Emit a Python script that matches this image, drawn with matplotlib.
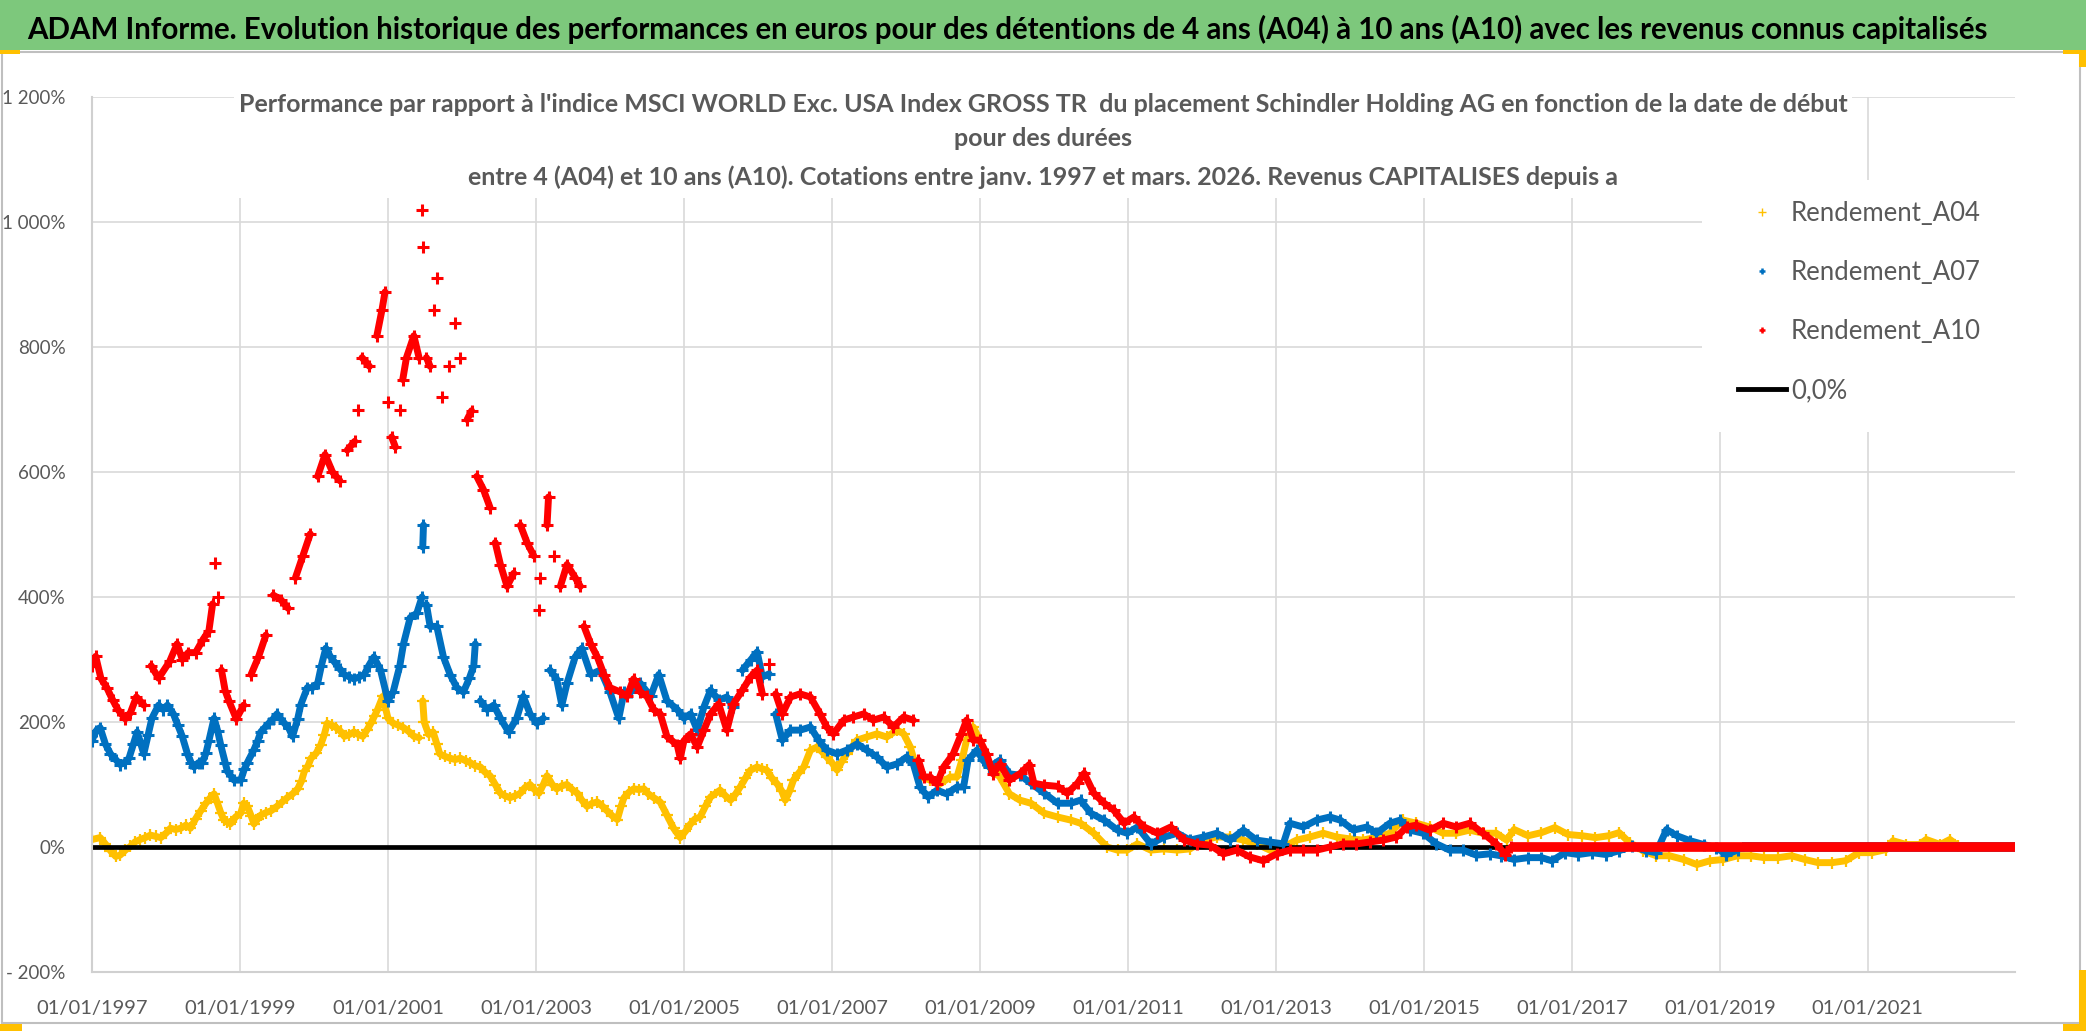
import numpy as np
import matplotlib
matplotlib.use("Agg")
import matplotlib.pyplot as plt
from matplotlib.patches import Rectangle
from matplotlib.lines import Line2D
from matplotlib.ticker import FuncFormatter, FixedLocator

# ---- data (decimal year, performance in %) ----
a04_dates = [1997.00, 1997.11, 1997.18, 1997.25, 1997.32, 1997.38, 1997.45, 1997.52, 1997.58, 1997.65,
             1997.72, 1997.79, 1997.86, 1997.93, 1998.00, 1998.06, 1998.13, 1998.20, 1998.27, 1998.33,
             1998.40, 1998.47, 1998.54, 1998.60, 1998.65, 1998.69, 1998.74, 1998.78, 1998.83, 1998.87,
             1998.94, 1999.01, 1999.05, 1999.10, 1999.15, 1999.19, 1999.24, 1999.28, 1999.35, 1999.42,
             1999.50, 1999.57, 1999.64, 1999.71, 1999.78, 1999.83, 1999.87, 1999.92, 1999.96, 2000.03,
             2000.09, 2000.14, 2000.18, 2000.24, 2000.30, 2000.36, 2000.41, 2000.48, 2000.54, 2000.60,
             2000.66, 2000.72, 2000.77, 2000.82, 2000.86, 2000.93, 2001.00, 2001.07, 2001.14, 2001.21,
             2001.28, 2001.35, 2001.42, 2001.47, 2001.49, 2001.55, 2001.61, 2001.66, 2001.70, 2001.77,
             2001.84, 2001.91, 2001.98, 2002.05, 2002.11, 2002.18, 2002.25, 2002.31, 2002.38, 2002.45,
             2002.52, 2002.58, 2002.65, 2002.72, 2002.79, 2002.85, 2002.92, 2002.98, 2003.04, 2003.10,
             2003.15, 2003.22, 2003.28, 2003.35, 2003.42, 2003.49, 2003.56, 2003.62, 2003.69, 2003.76,
             2003.83, 2003.90, 2003.96, 2004.03, 2004.10, 2004.15, 2004.19, 2004.26, 2004.32, 2004.39,
             2004.46, 2004.52, 2004.59, 2004.68, 2004.77, 2004.86, 2004.95, 2005.02, 2005.09, 2005.15,
             2005.22, 2005.29, 2005.36, 2005.49, 2005.56, 2005.63, 2005.70, 2005.76, 2005.83, 2005.90,
             2005.99, 2006.06, 2006.12, 2006.19, 2006.26, 2006.32, 2006.37, 2006.43, 2006.48, 2006.55,
             2006.62, 2006.71, 2006.80, 2006.87, 2006.93, 2007.00, 2007.07, 2007.13, 2007.20, 2007.27,
             2007.34, 2007.47, 2007.61, 2007.74, 2007.88, 2007.97, 2008.06, 2008.12, 2008.19, 2008.33,
             2008.46, 2008.60, 2008.69, 2008.76, 2008.82, 2008.91, 2009.00, 2009.06, 2009.13, 2009.27,
             2009.40, 2009.54, 2009.69, 2009.87, 2010.05, 2010.23, 2010.36, 2010.54, 2010.72, 2010.86,
             2010.99, 2011.13, 2011.31, 2011.49, 2011.67, 2011.84, 2012.02, 2012.20, 2012.38, 2012.56,
             2012.74, 2012.92, 2013.10, 2013.28, 2013.46, 2013.64, 2013.82, 2014.00, 2014.18, 2014.36,
             2014.54, 2014.72, 2014.90, 2015.08, 2015.26, 2015.44, 2015.62, 2015.80, 2015.98, 2016.12,
             2016.22, 2016.41, 2016.59, 2016.77, 2016.95, 2017.14, 2017.32, 2017.50, 2017.64, 2017.78,
             2017.96, 2018.14, 2018.32, 2018.51, 2018.69, 2018.87, 2019.05, 2019.24, 2019.42, 2019.60,
             2019.79, 2019.97, 2020.15, 2020.33, 2020.52, 2020.70, 2020.88, 2021.06, 2021.25, 2021.34,
             2021.52, 2021.70, 2021.79, 2021.98, 2022.11, 2022.22]
a04_values = [12, 15, 5, -6, -15, -13, -5, 1, 8, 12,
              15, 19, 17, 15, 22, 30, 28, 30, 35, 30,
              45, 58, 70, 79, 85, 72, 55, 44, 40, 37,
              48, 54, 70, 65, 50, 37, 45, 51, 55, 58,
              65, 72, 79, 85, 93, 105, 121, 130, 142, 150,
              163, 180, 198, 195, 191, 185, 177, 180, 184, 180,
              177, 188, 198, 210, 220, 241, 206, 198, 195, 191,
              185, 177, 175, 234, 200, 180, 184, 165, 149, 145,
              142, 140, 142, 138, 135, 130, 128, 120, 114, 100,
              86, 82, 79, 82, 86, 95, 100, 92, 86, 100,
              114, 100, 93, 98, 100, 92, 86, 75, 65, 70,
              72, 65, 58, 50, 44, 65, 79, 88, 93, 92,
              93, 85, 79, 72, 51, 30, 15, 25, 37, 45,
              48, 65, 80, 91, 82, 75, 85, 96, 110, 123,
              128, 125, 123, 110, 101, 90, 75, 90, 107, 118,
              128, 155, 160, 152, 144, 135, 123, 136, 149, 160,
              171, 176, 181, 176, 187, 181, 160, 135, 112, 107,
              101, 112, 112, 140, 171, 192, 171, 150, 128, 112,
              85, 75, 70, 54, 48, 43, 38, 22, 0, -5,
              -5, 5, -5, -3, -5, -3, 11, 16, 16, 11,
              5, -5, 0, 11, 16, 22, 16, 13, 11, 16,
              22, 43, 38, 32, 22, 22, 27, 22, 22, 11,
              28, 18, 23, 31, 20, 18, 15, 18, 23, 7,
              -6, -14, -14, -20, -28, -22, -20, -14, -14, -17,
              -17, -14, -20, -25, -25, -22, -9, -9, -4, 10,
              4, 4, 12, 4, 12, 2]

a07_dates = [1997.00, 1997.05, 1997.11, 1997.18, 1997.25, 1997.32, 1997.38, 1997.44, 1997.50, 1997.56,
             1997.61, 1997.66, 1997.70, 1997.76, 1997.81, 1997.90, 1997.96, 1998.02, 1998.10, 1998.16,
             1998.22, 1998.29, 1998.34, 1998.38, 1998.44, 1998.49, 1998.54, 1998.58, 1998.65, 1998.70,
             1998.74, 1998.80, 1998.83, 1998.92, 1999.01, 1999.06, 1999.10, 1999.19, 1999.24, 1999.28,
             1999.39, 1999.45, 1999.50, 1999.60, 1999.66, 1999.71, 1999.78, 1999.82, 1999.91, 1999.98,
             2000.05, 2000.10, 2000.16, 2000.22, 2000.27, 2000.35, 2000.41, 2000.48, 2000.54, 2000.61,
             2000.68, 2000.74, 2000.81, 2000.90, 2001.00, 2001.07, 2001.16, 2001.21, 2001.30, 2001.39,
             2001.46, 2001.47, 2001.48, 2001.52, 2001.57, 2001.66, 2001.75, 2001.84, 2001.93, 2002.02,
             2002.10, 2002.16, 2002.18, 2002.25, 2002.34, 2002.43, 2002.52, 2002.63, 2002.74, 2002.83,
             2002.92, 2003.01, 2003.10, 2003.19, 2003.28, 2003.35, 2003.42, 2003.53, 2003.62, 2003.74,
             2003.87, 2004.00, 2004.12, 2004.19, 2004.28, 2004.41, 2004.55, 2004.66, 2004.77, 2004.91,
             2005.00, 2005.09, 2005.18, 2005.27, 2005.36, 2005.47, 2005.58, 2005.67, 2005.79, 2005.90,
             2005.99, 2006.06, 2006.15, 2006.24, 2006.33, 2006.44, 2006.57, 2006.71, 2006.82, 2006.93,
             2007.07, 2007.20, 2007.34, 2007.47, 2007.61, 2007.74, 2007.88, 2008.01, 2008.10, 2008.19,
             2008.30, 2008.42, 2008.55, 2008.69, 2008.78, 2008.84, 2008.96, 2009.04, 2009.13, 2009.27,
             2009.40, 2009.54, 2009.69, 2009.87, 2010.05, 2010.23, 2010.36, 2010.50, 2010.68, 2010.86,
             2010.99, 2011.13, 2011.31, 2011.49, 2011.67, 2011.84, 2012.02, 2012.20, 2012.38, 2012.56,
             2012.74, 2012.92, 2013.10, 2013.19, 2013.37, 2013.55, 2013.73, 2013.87, 2014.05, 2014.23,
             2014.36, 2014.54, 2014.68, 2014.81, 2014.99, 2015.17, 2015.35, 2015.53, 2015.71, 2015.89,
             2016.04, 2016.22, 2016.41, 2016.59, 2016.73, 2016.91, 2017.09, 2017.27, 2017.46, 2017.64,
             2017.82, 2018.00, 2018.14, 2018.28, 2018.42, 2018.60, 2018.78, 2018.95, 2019.09, 2019.24]
a07_values = [170, 185, 191, 165, 149, 140, 132, 135, 142, 165,
              184, 165, 149, 180, 206, 227, 220, 227, 213, 195,
              177, 149, 135, 128, 135, 135, 150, 170, 206, 185,
              163, 135, 121, 107, 107, 125, 135, 156, 170, 184,
              198, 205, 213, 198, 190, 177, 205, 227, 255, 255,
              262, 290, 318, 305, 297, 285, 276, 272, 269, 272,
              276, 290, 304, 283, 234, 248, 290, 325, 367, 374,
              400, 480, 515, 388, 353, 353, 304, 276, 255, 248,
              270, 290, 325, 234, 220, 227, 206, 184, 206, 241,
              213, 198, 206, 283, 269, 227, 262, 304, 318, 276,
              283, 248, 206, 248, 248, 262, 241, 276, 234, 220,
              206, 213, 187, 224, 251, 235, 240, 224, 283, 299,
              312, 272, 277, 213, 171, 187, 187, 192, 171, 155,
              149, 155, 165, 155, 144, 128, 133, 144, 133, 96,
              80, 91, 85, 96, 96, 139, 155, 139, 128, 139,
              117, 115, 102, 86, 70, 70, 75, 54, 43, 27,
              22, 32, 5, 16, 22, 11, 16, 22, 11, 27,
              11, 8, 5, 38, 32, 43, 48, 43, 27, 32,
              22, 38, 43, 27, 22, 5, -5, -5, -13, -11,
              -14, -20, -17, -17, -22, -9, -12, -9, -12, -6,
              2, -6, -9, 28, 18, 10, 4, -1, -12, -5]

a10_dates = [1997.00, 1997.05, 1997.12, 1997.20, 1997.28, 1997.35, 1997.45, 1997.52, 1997.60, 1997.70,
             1997.80, 1997.90, 1998.05, 1998.15, 1998.22, 1998.30, 1998.40, 1998.50, 1998.58, 1998.63,
             1998.66, 1998.70, 1998.75, 1998.80, 1998.85, 1998.95, 1999.05, 1999.15, 1999.25, 1999.35,
             1999.45, 1999.55, 1999.65, 1999.75, 1999.85, 1999.95, 2000.05, 2000.15, 2000.25, 2000.35,
             2000.45, 2000.55, 2000.60, 2000.65, 2000.75, 2000.85, 2000.92, 2000.96, 2001.00, 2001.05,
             2001.10, 2001.16, 2001.20, 2001.25, 2001.35, 2001.42, 2001.46, 2001.48, 2001.52, 2001.57,
             2001.62, 2001.66, 2001.73, 2001.82, 2001.91, 2001.98, 2002.07, 2002.13, 2002.20, 2002.29,
             2002.38, 2002.45, 2002.52, 2002.61, 2002.70, 2002.79, 2002.88, 2002.97, 2003.04, 2003.06,
             2003.15, 2003.17, 2003.24, 2003.33, 2003.42, 2003.53, 2003.60, 2003.65, 2003.74, 2003.83,
             2003.92, 2004.00, 2004.14, 2004.23, 2004.32, 2004.41, 2004.50, 2004.59, 2004.68, 2004.77,
             2004.91, 2004.95, 2005.00, 2005.09, 2005.18, 2005.27, 2005.36, 2005.47, 2005.58, 2005.67,
             2005.79, 2005.90, 2005.99, 2006.06, 2006.15, 2006.24, 2006.33, 2006.44, 2006.57, 2006.71,
             2006.84, 2006.93, 2007.02, 2007.16, 2007.29, 2007.43, 2007.56, 2007.70, 2007.83, 2007.97,
             2008.10, 2008.17, 2008.24, 2008.33, 2008.42, 2008.51, 2008.64, 2008.75, 2008.82, 2008.91,
             2009.00, 2009.09, 2009.18, 2009.27, 2009.40, 2009.55, 2009.67, 2009.73, 2009.87, 2010.05,
             2010.18, 2010.32, 2010.41, 2010.54, 2010.68, 2010.81, 2010.95, 2011.08, 2011.22, 2011.40,
             2011.58, 2011.76, 2011.93, 2012.11, 2012.29, 2012.47, 2012.65, 2012.83, 2013.01, 2013.19,
             2013.37, 2013.55, 2013.73, 2013.91, 2014.09, 2014.27, 2014.45, 2014.63, 2014.77, 2014.90,
             2015.08, 2015.26, 2015.44, 2015.62, 2015.80, 2015.98, 2016.10, 2016.18]
a10_values = [290, 305, 270, 255, 235, 220, 205, 215, 240, 227,
              290, 270, 297, 325, 300, 311, 311, 332, 346, 389,
              455, 400, 283, 250, 234, 205, 227, 276, 304, 339,
              403, 396, 382, 431, 466, 501, 593, 628, 600, 586,
              635, 649, 700, 783, 769, 818, 860, 888, 712, 656,
              640, 700, 748, 783, 818, 783, 1019, 960, 783, 769,
              860, 910, 720, 769, 839, 783, 684, 698, 593, 572,
              543, 487, 452, 417, 438, 515, 487, 466, 380, 431,
              515, 560, 466, 417, 452, 431, 417, 353, 325, 304,
              276, 255, 248, 241, 269, 248, 241, 220, 213, 177,
              163, 142, 170, 181, 160, 187, 213, 229, 187, 229,
              251, 272, 283, 245, 293, 245, 213, 240, 245, 240,
              213, 192, 181, 203, 208, 213, 203, 208, 192, 208,
              203, 139, 112, 112, 101, 128, 149, 181, 203, 171,
              171, 149, 117, 133, 107, 118, 132, 102, 99, 97,
              86, 102, 118, 86, 70, 59, 38, 48, 32, 22,
              32, 11, 5, 3, -11, -5, -16, -22, -11, -5,
              -5, -5, 0, 5, 5, 8, 11, 16, 32, 35,
              27, 38, 32, 38, 22, 5, -12, 0]

# after the last available start date each series sits at 0 until the end of the axis
tail_start = {"A04": 2022.25, "A07": 2019.30, "A10": 2016.20}
last_date = 2022.99
zero_dates = [1997.0, 2022.99]
zero_values = [0, 0]

x_ticks = [1997, 1999, 2001, 2003, 2005, 2007, 2009, 2011, 2013, 2015, 2017, 2019, 2021]
y_ticks = [-200, 0, 200, 400, 600, 800, 1000, 1200]

title = ("ADAM Informe. Evolution historique des performances en euros pour des détentions "
         "de 4 ans (A04) à 10 ans (A10) avec les revenus connus capitalisés")
sub1 = ("Performance par rapport à l'indice MSCI WORLD Exc. USA Index GROSS TR  du placement "
        "Schindler Holding AG en fonction de la date de début")
sub2 = "pour des durées"
sub3 = ("entre 4 (A04) et 10 ans (A10). Cotations entre janv. 1997 et mars. 2026. "
        "Revenus CAPITALISES depuis a")

# ---- style ----
plt.rcParams['font.family'] = ['Lato', 'DejaVu Sans']
YELLOW = '#FFC000'
BLUE = '#0070C0'
RED = '#FF0000'
GREY_TXT = '#595959'
GRID = '#D9D9D9'
GREEN = '#7DC87C'

W, H = 2086, 1031
fig = plt.figure(figsize=(W / 100, H / 100), dpi=100)


def fx(px):
    return px / W


def fy(py):
    return 1 - py / H


def band(d, v, max_jump):
    # join consecutive readings only where the daily cloud is continuous
    xs, ys = [d[0]], [v[0]]
    for i in range(1, len(d)):
        if abs(v[i] - v[i - 1]) > max_jump:
            xs.append(np.nan)
            ys.append(np.nan)
        xs.append(d[i])
        ys.append(v[i])
    return xs, ys


# green banner + title
fig.patches.append(Rectangle((0, fy(50)), 1, 50 / H, transform=fig.transFigure,
                             facecolor=GREEN, edgecolor='none', zorder=0))
fig.text(fx(27), fy(29), title, fontsize=21.25, weight='bold', color='black', va='center', ha='left')

# chart area frame and selection corners
frame_col = '#BFBFBF'
for xs, ys in [([fx(2), fx(2080)], [fy(52), fy(52)]),
               ([fx(2080), fx(2080)], [fy(52), fy(1023)]),
               ([fx(2), fx(2080)], [fy(1023), fy(1023)]),
               ([fx(2), fx(2)], [fy(52), fy(1023)])]:
    fig.lines.append(Line2D(xs, ys, transform=fig.transFigure, color=frame_col, lw=1.5))
for (x0, y0, w, h) in [(0, 50, 20, 4), (2063, 50, 23, 4), (2079, 50, 7, 17),
                       (0, 1024, 22, 7), (2063, 1024, 23, 7), (2079, 970, 7, 61)]:
    fig.patches.append(Rectangle((fx(x0), fy(y0 + h)), w / W, h / H, transform=fig.transFigure,
                                 facecolor=YELLOW, edgecolor='none', zorder=3))

ax = fig.add_axes([fx(92), fy(972), fx(2015) - fx(92), fy(97) - fy(972)])
ax.set_axisbelow(True)
ax.grid(True, color=GRID, lw=1.2)
ax.set_xlim(1997.0, last_date)
ax.set_ylim(-200, 1200)
ax.xaxis.set_major_locator(FixedLocator(x_ticks))
ax.yaxis.set_major_locator(FixedLocator(y_ticks))
ax.xaxis.set_major_formatter(FuncFormatter(lambda v, p: "01/01/%d" % round(v)))


def pct(v, p):
    v = int(round(v))
    if v < 0:
        return "- %d%%" % (-v)
    s = "{:,}".format(v).replace(",", " ")
    return s + "%"


ax.yaxis.set_major_formatter(FuncFormatter(pct))
ax.tick_params(length=0, labelcolor=GREY_TXT)
ax.tick_params(axis='y', pad=19, labelsize=13.5)
ax.tick_params(axis='x', pad=20, labelsize=14.5)
for s in ['top', 'right']:
    ax.spines[s].set_visible(False)
for s in ['left', 'bottom']:
    ax.spines[s].set_color('#D0D0D0')
    ax.spines[s].set_linewidth(1.5)

# series: '+' markers, plus a trace of the same readings where the daily cloud is continuous
series = [(a04_dates, a04_values, YELLOW, 9, 1.6, 5.0, 45, "A04", 2),
          (a07_dates, a07_values, BLUE, 8, 2.2, 5.0, 50, "A07", 3),
          (a10_dates, a10_values, RED, 8, 2.2, 5.0, 45, "A10", 4)]
for d, v, c, ms, mew, lw, jump, key, z in series:
    bx, by = band(d, v, jump)
    ax.plot(bx, by, ls='-', lw=lw, color=c, zorder=z, solid_capstyle='round', solid_joinstyle='round')
    ax.plot(d, v, ls='none', marker='+', ms=ms, mew=mew, color=c, zorder=z)
    ax.plot([tail_start[key], last_date], [0, 0], color=c, lw=7, zorder=z, solid_capstyle='butt')
    if key == "A04":
        ax.plot(zero_dates, zero_values, color='black', lw=3.4, zorder=2.5, solid_capstyle='butt')

# chart title box (hides gridlines behind it)
ax.add_patch(Rectangle((fx(234), fy(198)), fx(1852) - fx(234), fy(90) - fy(198),
                       transform=fig.transFigure, facecolor='white', edgecolor='none',
                       zorder=1.5, clip_on=False))
for txt, yy in [(sub1, 104), (sub2, 139), (sub3, 177)]:
    ax.text(fx(1043), fy(yy), txt, transform=fig.transFigure, ha='center', va='center',
            fontsize=18, weight='bold', color=GREY_TXT, zorder=6)

# legend box
ax.add_patch(Rectangle((fx(1702), fy(432)), fx(2016) - fx(1702), fy(180) - fy(432),
                       transform=fig.transFigure, facecolor='white', edgecolor='none',
                       zorder=5, clip_on=False))
handles = [Line2D([], [], ls='none', marker='+', ms=6, mew=1.0, color=YELLOW),
           Line2D([], [], ls='none', marker='+', ms=4.5, mew=1.8, color=BLUE),
           Line2D([], [], ls='none', marker='+', ms=4.5, mew=1.8, color=RED),
           Line2D([], [], color='black', lw=3.5)]
labels = ["Rendement_A04", "Rendement_A07", "Rendement_A10", "0,0%"]
leg = ax.legend(handles, labels, loc='upper left', bbox_to_anchor=(fx(1715), fy(178)),
                bbox_transform=fig.transFigure, frameon=False, fontsize=18.5,
                labelcolor=GREY_TXT, handlelength=1.85, handletextpad=0.2, labelspacing=1.32)
leg.set_zorder(6)

fig.savefig("out.png", dpi=100, facecolor='white')
